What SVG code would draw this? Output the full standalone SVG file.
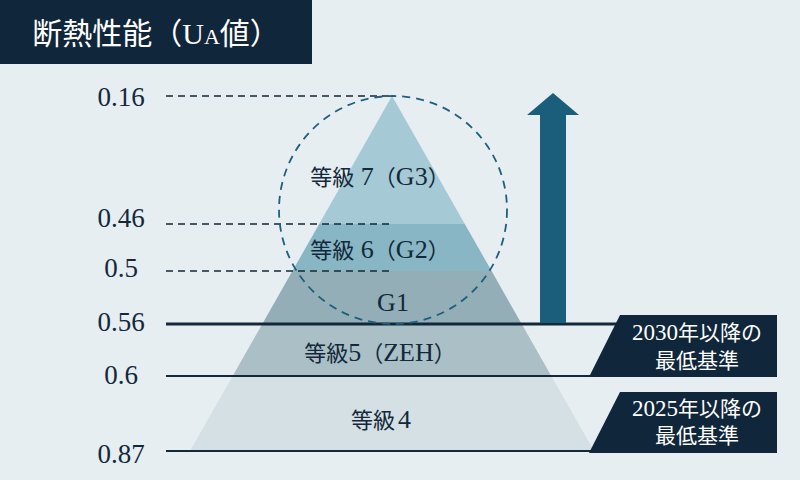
<svg xmlns="http://www.w3.org/2000/svg" width="800" height="480" viewBox="0 0 800 480">
<style>
.t{font-family:'Liberation Serif','Noto Sans CJK JP',serif;fill:#13283a}
.ax{font-size:27px;text-anchor:middle}
.lb{font-size:22px;text-anchor:middle}
.la{font-size:26px}
.wt{font-family:'Liberation Serif','Noto Sans CJK JP',serif;fill:#ffffff;text-anchor:middle}
.bx{font-size:21px}
.bd{font-size:23px}
.dash{stroke:#13283a;stroke-width:1.5;stroke-dasharray:7 5;fill:none}
.solid{stroke:#13283a;fill:none}
</style>
<rect width="800" height="480" fill="#e6eef2"/>
<g id="title">
<rect x="0" y="0" width="312" height="64" fill="#10263a"/>
<text class="wt" x="156" y="44" font-size="30">断熱性能（U<tspan font-size="22">A</tspan>値）</text>
</g>
<g id="pyramid">
<polygon id="g3" points="392,96 464.8,224 319.2,224" fill="#a5cad6"/>
<polygon id="g2" points="319.2,224 464.8,224 491.6,271 292.4,271" fill="#88b6c4"/>
<polygon id="g1" points="292.4,271 491.6,271 521.7,324 262.3,324" fill="#93aeb7"/>
<polygon id="zeh" points="262.3,324 521.7,324 551.3,376 232.7,376" fill="#aabfc6"/>
<polygon id="lv4" points="232.7,376 551.3,376 594,451 190,451" fill="#d4e0e4"/>
</g>
<g id="connectors">
<line class="dash" x1="166" y1="96" x2="393" y2="96"/>
<line class="dash" x1="166" y1="224" x2="393" y2="224"/>
<line class="dash" x1="166" y1="271" x2="393" y2="271"/>
<line class="solid" x1="166" y1="324" x2="620" y2="324" stroke-width="3"/>
<line class="solid" x1="166" y1="376" x2="595" y2="376" stroke-width="2"/>
<line class="solid" x1="166" y1="451" x2="595" y2="451" stroke-width="2"/>
<circle cx="393" cy="210" r="114" fill="none" stroke="#1e5f7e" stroke-width="1.8" stroke-dasharray="8 6"/>
<polygon id="arrow" points="540,323 566,323 566,115 579,115 553,93 527,115 540,115" fill="#1b5e7b"/>
</g>
<g id="axis">
<text class="t ax" x="121" y="106">0.16</text>
<text class="t ax" x="121" y="227">0.46</text>
<text class="t ax" x="121" y="277">0.5</text>
<text class="t ax" x="121" y="331">0.56</text>
<text class="t ax" x="121" y="384">0.6</text>
<text class="t ax" x="121" y="463">0.87</text>
</g>
<g id="labels">
<text class="t lb" x="380" y="185">等級<tspan class="la"> 7</tspan>（<tspan class="la">G3</tspan>）</text>
<text class="t lb" x="380" y="258">等級<tspan class="la"> 6</tspan>（<tspan class="la">G2</tspan>）</text>
<text class="t lb" x="393" y="311"><tspan class="la">G1</tspan></text>
<text class="t lb" x="380" y="361">等級<tspan class="la">5</tspan>（<tspan class="la">ZEH</tspan>）</text>
<text class="t lb" x="381" y="428">等級<tspan class="la" dx="3">4</tspan></text>
</g>
<g id="box2030">
<polygon points="620,315 777,315 777,377 589,377" fill="#10263a"/>
<text class="wt bx" x="697" y="340"><tspan class="bd">2030</tspan>年以降の</text>
<text class="wt bx" x="697" y="368">最低基準</text>
</g>
<g id="box2025">
<polygon points="620,392 777,392 777,453 589,453" fill="#10263a"/>
<text class="wt bx" x="697" y="416"><tspan class="bd">2025</tspan>年以降の</text>
<text class="wt bx" x="697" y="443">最低基準</text>
</g>
</svg>
